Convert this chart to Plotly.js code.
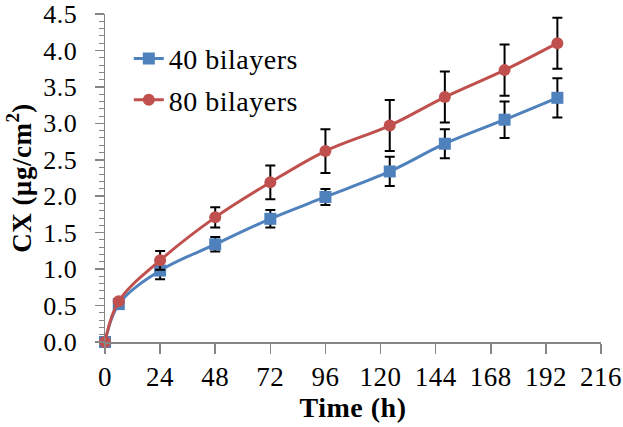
<!DOCTYPE html>
<html>
<head>
<meta charset="utf-8">
<script src="https://cdn.plot.ly/plotly-3.0.1.min.js"></script>
<style>
html, body { margin: 0; padding: 0; background: #fff; }
#chart { width: 623px; height: 427px; }
svg text { letter-spacing: 0.5px !important; }
</style>
</head>
<body>
<div id="chart"></div>
<script>
const timeH = [0, 6, 24, 48, 72, 96, 124, 148, 174, 197];
const cx40 = [0, 0.52, 0.98, 1.34, 1.69, 1.99, 2.34, 2.72, 3.05, 3.35];
const err40 = [0, 0.03, 0.12, 0.10, 0.12, 0.11, 0.20, 0.20, 0.25, 0.27];
const cx80 = [0, 0.56, 1.12, 1.71, 2.19, 2.62, 2.97, 3.36, 3.73, 4.10];
const err80 = [0, 0.03, 0.13, 0.14, 0.23, 0.30, 0.35, 0.35, 0.35, 0.35];
const seriesNames = ['40 bilayers', '80 bilayers'];
const xTicks = [0, 24, 48, 72, 96, 120, 144, 168, 192, 216];
const yTicks = [0, 0.5, 1, 1.5, 2, 2.5, 3, 3.5, 4, 4.5];

const serif = 'Liberation Serif';

function trace(y, err, name, color, symbol, group) {
  return {
    x: timeH, y: y, name: name, type: 'scatter', mode: 'lines+markers',
    legendgroup: group,
    line: { color: color, width: 3, shape: 'spline', smoothing: 1 },
    marker: { color: color, size: 12, symbol: symbol },
    error_y: { type: 'data', array: err, visible: true, color: '#000', thickness: 2, width: 5 },
    cliponaxis: false
  };
}

const data = [
  trace(cx40, err40, seriesNames[0], '#4F81BD', 'square', 'a'),
  trace(cx80, err80, seriesNames[1], '#C0504D', 'circle', 'b')
];

const layout = {
  width: 623, height: 427,
  margin: { l: 105, r: 22, t: 14, b: 85 },
  paper_bgcolor: '#fff', plot_bgcolor: '#fff',
  font: { family: serif, size: 27, color: '#000' },
  showlegend: true,
  legend: {
    x: 0.048, y: 0.94, xanchor: 'left', yanchor: 'top',
    bgcolor: 'rgba(0,0,0,0)', tracegroupgap: 2,
    font: { family: serif, size: 28, color: '#000' }
  },
  xaxis: {
    range: [0, 216], tickvals: xTicks, ticktext: xTicks.map(String),
    showgrid: false, zeroline: false,
    showline: true, linecolor: '#868686', linewidth: 1.5,
    ticks: 'outside', ticklen: 10, tickwidth: 1.5, tickcolor: '#868686',
    tickfont: { family: serif, size: 27, color: '#000' },
    ticklabelstandoff: 0, ticklabeloverflow: 'allow',
    title: { text: '<b>Time (h)</b>', font: { family: serif, size: 28, color: '#000' }, standoff: 6 },
    automargin: false
  },
  yaxis: {
    range: [0, 4.5], tickvals: yTicks, ticktext: yTicks.map(v => v.toFixed(1)),
    showgrid: false, zeroline: false,
    showline: true, linecolor: '#868686', linewidth: 1.5,
    ticks: 'outside', ticklen: 9, tickwidth: 1.5, tickcolor: '#868686',
    minor: { dtick: 0.1, ticks: 'outside', ticklen: 5, tickwidth: 1, tickcolor: '#868686', showgrid: false },
    tickfont: { family: serif, size: 26, color: '#000' },
    ticklabelstandoff: 12, ticklabeloverflow: 'allow',
    title: { text: '<b>CX (µg/cm<sup>2</sup>)</b>', font: { family: serif, size: 27, color: '#000' }, standoff: 4 },
    automargin: false
  }
};

Plotly.newPlot('chart', data, layout, { displayModeBar: false, staticPlot: true });
</script>
</body>
</html>
